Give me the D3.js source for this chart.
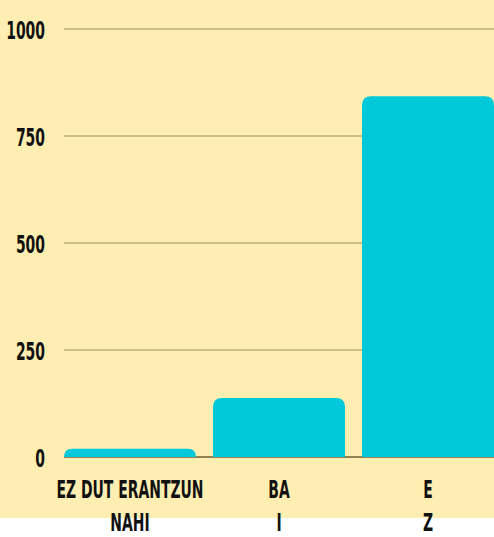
<!DOCTYPE html>
<html>
<head>
<meta charset="utf-8">
<script src="https://cdn.jsdelivr.net/npm/d3@7"></script>
<style>
  html, body { margin: 0; padding: 0; background: #fff; }
  #chart { width: 494px; height: 537px; }
  text { font-family: "DejaVu Sans Condensed", "DejaVu Sans", sans-serif; font-stretch: condensed; }
</style>
</head>
<body>
<div id="chart"></div>
<script>
const categories = ['cat0', 'cat1', 'cat2'];
const labelLines = [['EZ DUT ERANTZUN', 'NAHI'], ['BA', 'I'], ['E', 'Z']];
const values = [19, 138, 843];
const yTicks = [0, 250, 500, 750, 1000];

const width = 494, height = 537;
const bgHeight = 518;
const margin = {top: 29, right: 0, bottom: 80, left: 64};
const squeeze = 0.62; // the original font is tall and narrow
const fontSize = 25;

const svg = d3.select('#chart')
  .append('svg')
    .attr('width', width)
    .attr('height', height);

svg.append('rect')
  .attr('width', width)
  .attr('height', bgHeight)
  .attr('fill', '#feeeb1');

const x = d3.scaleBand()
  .domain(categories)
  .range([margin.left, width - margin.right])
  .paddingInner(0.114)
  .paddingOuter(0);

const y = d3.scaleLinear()
  .domain([0, 1000])
  .range([457, margin.top]);

// gridlines
svg.append('g')
  .selectAll('line')
  .data(yTicks.filter(d => d > 0))
  .join('line')
    .attr('x1', margin.left)
    .attr('x2', width)
    .attr('y1', d => y(d))
    .attr('y2', d => y(d))
    .attr('stroke', '#bfae7b')
    .attr('stroke-width', 1.5);

// baseline
svg.append('line')
  .attr('x1', margin.left)
  .attr('x2', width)
  .attr('y1', y(0))
  .attr('y2', y(0))
  .attr('stroke', '#6e5d33')
  .attr('stroke-width', 1.5);

// y tick labels
svg.append('g')
  .selectAll('text')
  .data(yTicks)
  .join('text')
    .attr('transform', d => `translate(45,${y(d) + 1}) scale(${squeeze},1)`)
    .attr('dy', '0.35em')
    .attr('text-anchor', 'end')
    .attr('font-size', fontSize)
    .attr('font-weight', 'bold')
    .attr('fill', '#111')
    .text(d => d);

// bars with rounded top corners
const r = 9;
function barPath(d, i) {
  const x0 = x(categories[i]), x1 = x0 + x.bandwidth();
  const yt = y(d), yb = y(0);
  const rr = Math.min(r, (yb - yt));
  return `M${x0},${yb} L${x0},${yt + rr} Q${x0},${yt} ${x0 + rr},${yt}
          L${x1 - rr},${yt} Q${x1},${yt} ${x1},${yt + rr} L${x1},${yb} Z`;
}

svg.append('g')
  .selectAll('path')
  .data(values)
  .join('path')
    .attr('d', barPath)
    .attr('fill', '#02c9da');

// category labels (two lines)
const labels = svg.append('g')
  .selectAll('text')
  .data(labelLines)
  .join('text')
    .attr('transform', (d, i) =>
      `translate(${x(categories[i]) + x.bandwidth() / 2},489) scale(${squeeze},1)`)
    .attr('text-anchor', 'middle')
    .attr('font-size', fontSize)
    .attr('font-weight', 'bold')
    .attr('fill', '#111');

labels.selectAll('tspan')
  .data(d => d)
  .join('tspan')
    .attr('x', 0)
    .attr('dy', (d, i) => i === 0 ? '0.35em' : 33)
    .text(d => d);
</script>
</body>
</html>
